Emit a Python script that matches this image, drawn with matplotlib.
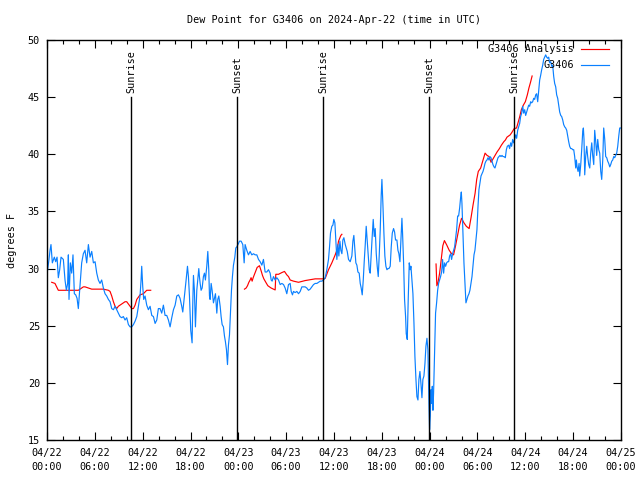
import numpy as np
import matplotlib
matplotlib.use("Agg")
import matplotlib.pyplot as plt
from matplotlib.ticker import MultipleLocator

# hours since 2024-04-22 00:00 UTC
station_hours = [
    0.00, 0.25, 0.38, 0.50, 0.67, 0.92, 1.09, 1.26, 1.42, 1.59, 1.76, 2.05, 2.26, 2.43, 2.59, 2.68,
    2.76, 2.93, 3.10, 3.26, 3.43, 3.60, 3.77, 3.93, 4.14, 4.35, 4.56, 4.77, 4.98, 5.19, 5.40, 5.61,
    5.82, 6.03, 6.24, 6.44, 6.65, 6.86, 7.07, 7.28, 7.49, 7.70, 7.91, 8.12, 8.33, 8.54, 8.74, 8.95,
    9.16, 9.37, 9.58, 9.79, 10.00, 10.21, 10.42, 10.63, 10.84, 11.05, 11.26, 11.46, 11.67, 11.80,
    11.88, 12.01, 12.13, 12.30, 12.51, 12.72, 12.93, 13.14, 13.35, 13.56, 13.77, 13.97,
    14.18, 14.39, 14.60, 14.81, 15.02, 15.23, 15.44, 15.65, 15.86, 16.07, 16.28, 16.49, 16.69, 16.90,
    17.03, 17.20, 17.32, 17.45, 17.62, 17.74, 17.87, 18.03, 18.20, 18.28, 18.37, 18.49, 18.62, 18.79,
    18.91, 19.04, 19.12, 19.21, 19.33, 19.46, 19.62, 19.75, 19.87, 20.04, 20.17, 20.29, 20.38, 20.46,
    20.59, 20.71, 20.88, 21.00, 21.13, 21.30, 21.42, 21.55, 21.72, 21.84, 21.97, 22.13, 22.26, 22.38,
    22.51, 22.64, 22.76, 22.89, 23.01, 23.14, 23.26, 23.39, 23.56, 23.68, 23.81, 24.02, 24.14, 24.35,
    24.56, 24.73, 24.85, 25.06, 25.27, 25.48, 25.69, 25.90, 26.11, 26.32, 26.53, 26.74, 26.95, 27.15,
    27.36, 27.57, 27.78, 27.99, 28.12, 28.24, 28.41,
    28.62, 28.83, 29.04, 29.25, 29.46, 29.67, 29.87, 30.08, 30.29, 30.50, 30.63, 30.79, 30.92, 31.13,
    31.34, 31.55, 31.76, 31.97, 32.18, 32.38, 32.59, 32.80, 33.01, 33.22, 33.43, 33.64, 33.85, 34.06,
    34.27, 34.48, 34.69, 34.90, 35.10, 35.31, 35.44, 35.56, 35.73, 35.86, 35.98, 36.11, 36.23, 36.36,
    36.49, 36.61, 36.74, 36.86, 36.99, 37.11, 37.24, 37.41, 37.53, 37.66, 37.82, 38.03, 38.24, 38.37,
    38.49, 38.62, 38.74, 38.87, 39.00, 39.16, 39.29, 39.41, 39.54, 39.67, 39.79, 39.92, 40.04, 40.17,
    40.29, 40.42, 40.54, 40.67, 40.79, 40.92, 41.05, 41.17, 41.30, 41.42, 41.55, 41.67, 41.80, 41.92,
    42.01, 42.13, 42.26, 42.38, 42.51, 42.64, 42.76, 42.89,
    43.05, 43.18, 43.31, 43.47, 43.60, 43.72, 43.89, 44.02, 44.14, 44.27, 44.39, 44.52, 44.60, 44.73,
    44.85, 44.98, 45.06, 45.19, 45.31, 45.44, 45.56, 45.65, 45.77, 45.90, 46.03, 46.15, 46.28, 46.40,
    46.53, 46.65, 46.78, 46.90, 47.03, 47.15, 47.28, 47.41, 47.53, 47.66, 47.78, 47.91, 47.99, 48.08,
    48.16, 48.24, 48.33, 48.41, 48.49, 48.62, 48.74, 48.87, 49.00, 49.12, 49.25, 49.37, 49.50, 49.62,
    49.75, 49.87, 50.00, 50.13, 50.25, 50.38, 50.50, 50.63, 50.75, 50.88, 51.00, 51.13, 51.26, 51.38,
    51.51, 51.63, 51.76, 51.88, 51.97, 52.05, 52.13, 52.22, 52.30, 52.43, 52.55, 52.68, 52.80, 52.93,
    53.05, 53.18, 53.31, 53.43, 53.56, 53.68, 53.81, 53.93, 54.06, 54.18, 54.31, 54.44, 54.56, 54.69,
    54.81, 54.94, 55.06, 55.19, 55.31, 55.44, 55.56, 55.69, 55.82, 55.94, 56.07, 56.19, 56.32, 56.44,
    56.57, 56.69, 56.82, 56.95, 57.07, 57.20, 57.32,
    57.49, 57.62, 57.74, 57.91, 58.03, 58.16, 58.28, 58.41, 58.54, 58.66, 58.79, 58.91, 59.04, 59.16,
    59.29, 59.41, 59.54, 59.67, 59.79, 59.92, 60.04, 60.17, 60.29, 60.42, 60.54, 60.67, 60.79, 60.92,
    61.05, 61.17, 61.30, 61.42, 61.55, 61.67, 61.80, 61.92, 62.05, 62.18, 62.30, 62.43, 62.55, 62.68,
    62.80, 62.93, 63.05, 63.18, 63.31, 63.43, 63.56, 63.68, 63.81, 63.93, 64.06, 64.18, 64.31, 64.44,
    64.56, 64.69, 64.81, 64.94, 65.06, 65.19, 65.31, 65.44, 65.56, 65.69, 65.82, 65.94, 66.07, 66.19,
    66.32, 66.40, 66.49, 66.61, 66.74, 66.82, 66.95, 67.07, 67.20, 67.28, 67.36, 67.45, 67.57, 67.70,
    67.82, 67.95, 68.08, 68.20, 68.33, 68.45, 68.58, 68.70, 68.83, 68.95, 69.08, 69.21, 69.33, 69.46,
    69.58, 69.71, 69.83, 69.96, 70.08, 70.21, 70.33, 70.46, 70.59, 70.71, 70.84, 70.96, 71.09, 71.21,
    71.34, 71.46, 71.59, 71.72, 71.84, 71.97,
]
station_dewpt = [
    29.5, 30.8, 31.6, 32.1, 30.5, 31.0, 30.6, 31.0, 29.2, 29.9, 31.0, 30.8, 29.0, 28.1, 28.7, 31.2,
    27.3, 30.5, 29.6, 31.2, 27.8, 27.7, 27.4, 26.5, 28.5, 30.5, 31.3, 31.6, 30.5, 32.1, 31.0, 31.5,
    30.5, 30.6, 29.6, 29.0, 28.7, 29.0, 28.3, 27.8, 27.6, 27.3, 27.1, 26.5, 26.4, 26.7, 26.4, 26.1,
    25.8, 25.7, 25.8, 25.5, 25.7, 25.1, 24.9, 24.9, 25.1, 25.4, 25.8, 26.7, 27.6, 29.0,
    30.2, 28.4, 27.3, 27.6, 26.8, 26.4, 26.7, 25.9, 25.8, 25.2, 25.5, 26.5,
    26.5, 26.1, 26.8, 25.9, 25.9, 25.5, 24.9, 25.7, 26.4, 26.8, 27.6, 27.7, 27.4, 26.7,
    26.2, 27.3, 28.1, 29.0, 30.2, 29.3, 27.6, 24.6, 23.5, 26.7, 29.4, 28.1, 24.9, 28.1,
    29.0, 30.0, 29.3, 28.7, 28.1, 28.3, 29.3, 29.6, 29.0, 30.2, 31.5, 29.9, 27.6, 27.3,
    28.7, 28.1, 27.0, 27.4, 27.8, 26.1, 27.3, 27.6, 26.7, 25.8, 25.1, 24.9, 24.1, 23.6,
    22.9, 21.6, 23.3, 24.2, 26.1, 28.1, 29.3, 30.3, 31.0, 31.8, 31.9, 32.2, 32.4, 32.4,
    32.1, 30.5, 32.1, 31.6, 31.2, 31.5, 31.2, 31.3, 31.2, 31.2, 30.8, 30.6, 30.3, 30.8,
    29.7, 29.7, 29.9, 29.6, 29.0, 28.9, 29.3,
    29.0, 29.2, 29.0, 28.6, 28.7, 28.6, 28.3, 27.8, 28.6, 28.7, 28.0, 27.7, 28.0, 27.9,
    28.0, 27.8, 28.0, 28.4, 28.4, 28.4, 28.3, 28.1, 28.2, 28.4, 28.6, 28.7, 28.7, 28.8,
    28.9, 28.9, 29.0, 29.2, 29.9, 30.8, 31.9, 33.1, 33.7, 33.8, 34.3, 34.0, 32.5, 30.8,
    32.1, 31.1, 32.4, 31.6, 31.3, 32.5, 32.7, 32.1, 31.8, 31.5, 30.8, 30.6, 31.1, 32.4,
    32.9, 31.6, 30.5, 30.3, 29.7, 29.6, 28.7, 28.3, 27.7, 29.0, 30.6, 32.1, 33.7, 32.4,
    31.3, 29.9, 29.6, 31.3, 32.8, 34.3, 32.8, 33.5, 31.3, 30.2, 29.3, 31.1, 33.4, 36.4,
    37.8, 35.7, 33.1, 31.1, 30.2, 29.9, 30.0, 30.0,
    30.2, 31.9, 33.1, 33.5, 33.2, 32.5, 32.5, 31.6, 31.3, 30.6, 32.5, 34.4, 33.1, 30.5,
    27.3, 25.8, 24.3, 23.8, 27.3, 30.5, 29.9, 30.2, 29.0, 27.8, 25.2, 22.3, 20.3, 18.8,
    18.5, 20.3, 21.0, 20.0, 18.7, 20.3, 20.6, 21.7, 23.2, 23.9, 22.9, 18.2, 15.9, 17.1,
    19.4, 18.2, 19.7, 17.6, 19.1, 22.9, 26.1, 27.0, 28.1, 28.7, 29.0, 29.3, 29.7, 30.8,
    29.6, 30.5, 30.2, 30.5, 30.6, 30.6, 31.1, 31.3, 30.8, 31.3, 31.6, 31.9, 32.7, 33.4,
    34.6, 34.6, 35.3, 36.2, 36.7, 35.7, 34.1, 32.2, 30.5, 28.7, 27.0, 27.3, 27.6, 27.8,
    28.1, 28.7, 29.3, 30.2, 31.2, 31.6, 32.5, 33.4, 35.4, 36.9, 37.5, 38.1, 38.3, 38.5,
    38.8, 39.2, 39.4, 39.5, 39.7, 39.5, 39.8, 39.7, 39.4, 39.1, 38.9, 38.8, 39.1, 39.4,
    39.7, 39.8, 39.9, 39.8, 39.9, 39.8, 39.8,
    39.7, 40.4, 40.7, 40.8, 40.5, 41.0, 40.7, 41.3, 41.0, 41.3, 41.7, 41.4, 42.1, 42.4,
    42.7, 43.3, 43.6, 44.2, 43.6, 43.9, 43.4, 43.7, 44.0, 44.3, 44.2, 44.6, 44.5, 44.6,
    44.9, 44.8, 45.2, 45.3, 44.6, 45.5, 46.5, 46.9, 47.4, 47.8, 48.3, 48.5, 48.7, 48.5,
    48.4, 48.5, 48.0, 48.1, 47.7, 47.8, 46.8, 46.2, 45.9, 45.2, 44.9, 44.3, 43.7, 43.4,
    43.3, 43.0, 42.6, 42.4, 42.3, 42.1, 41.6, 41.1, 40.7, 40.5, 40.5, 40.4, 40.4, 39.8,
    38.8, 39.5, 38.9, 38.5, 39.2, 38.1, 39.1, 40.4, 42.0, 42.3, 41.3, 38.2, 39.8, 40.7,
    39.8, 39.1, 38.8, 40.1, 41.0, 39.9, 39.1, 42.1, 41.1, 39.9, 41.3, 40.4, 40.1, 38.5,
    37.8, 39.5, 42.3, 41.3, 39.8, 39.7, 39.4, 39.2, 38.9, 39.1, 39.4, 39.5, 39.8, 39.7,
    39.9, 40.1, 40.7, 41.6, 42.3, 42.3,
]

# analysis series, three separate runs
analysis_hours = [
    [0.59, 1.00, 1.21, 1.42, 1.63, 2.26, 3.93, 4.14, 4.56, 4.77, 5.19, 5.61, 7.07, 7.70, 7.91,
     8.12, 8.33, 8.54, 8.74, 8.95, 9.37, 9.79, 10.00, 10.42, 10.63, 10.84, 11.05, 11.26, 11.67,
     12.09, 12.51, 12.72, 13.01],
    [24.77, 24.98, 25.15, 25.32, 25.48, 25.60, 25.73, 25.86, 26.03, 26.20, 26.36, 26.65, 26.86,
     27.03, 27.20, 27.36, 27.53, 27.70, 27.90, 28.11, 28.40, 28.62, 28.70, 28.95, 29.04, 29.46,
     29.79, 30.08, 30.29, 30.50, 30.92, 31.55, 32.38, 33.64, 34.69, 34.90, 35.31, 35.73, 36.15,
     36.36, 36.57, 36.86, 36.99],
    [48.80, 48.90, 49.05, 49.25, 49.45, 49.65, 49.85, 50.15, 50.45, 50.75, 51.00, 51.25, 51.50,
     51.75, 52.00, 52.30, 52.60, 52.95, 53.20, 53.45, 53.70, 53.90, 54.10, 54.40, 54.70, 54.95,
     55.20, 55.45, 55.70, 55.95, 56.20, 56.45, 56.75, 57.00, 57.30, 57.50, 57.70, 57.90, 58.10,
     58.30, 58.60, 58.90, 59.10, 59.30, 59.50, 59.75, 60.00, 60.25, 60.45, 60.65, 60.85],
]
analysis_dewpt = [
    [28.8, 28.7, 28.4, 28.1, 28.1, 28.1, 28.1, 28.2, 28.4, 28.4, 28.3, 28.2, 28.2, 28.1, 28.0,
     27.6, 27.1, 26.7, 26.5, 26.7, 26.9, 27.1, 27.1, 26.7, 26.5, 26.5, 26.8, 27.3, 27.7,
     27.8, 28.1, 28.1, 28.1],
    [28.2, 28.3, 28.5, 28.8, 29.0, 29.2, 28.9, 29.2, 29.5, 29.8, 30.1, 30.25, 29.8,
     29.4, 29.1, 28.9, 28.7, 28.5, 28.4, 28.3, 28.2, 28.13, 29.5, 29.5, 29.5, 29.65,
     29.75, 29.45, 29.3, 29.0, 28.9, 28.8, 28.95, 29.1, 29.1, 29.15, 29.9, 30.5, 31.2,
     31.6, 32.4, 32.9, 33.0],
    [30.4, 28.5, 28.8, 29.6, 30.8, 32.0, 32.45, 32.05, 31.6, 31.3, 31.2, 32.0, 32.9,
     33.8, 34.4, 34.0, 33.7, 33.5, 34.5, 35.6, 36.6, 37.8, 38.5, 38.8, 39.5, 40.1,
     39.9, 39.8, 39.3, 39.6, 39.9, 40.2, 40.5, 40.8, 41.1, 41.25, 41.5, 41.6, 41.7,
     41.9, 42.25, 42.3, 42.8, 43.3, 43.9, 44.3, 44.6, 45.2, 45.8, 46.3, 46.85],
]

sun_hours = [10.58, 23.88, 34.65, 47.95, 58.63]
sun_labels = ["Sunrise", "Sunset", "Sunrise", "Sunset", "Sunrise"]

tick_hours = [0, 6, 12, 18, 24, 30, 36, 42, 48, 54, 60, 66, 72]
tick_labels = ["04/22\n00:00", "04/22\n06:00", "04/22\n12:00", "04/22\n18:00",
               "04/23\n00:00", "04/23\n06:00", "04/23\n12:00", "04/23\n18:00",
               "04/24\n00:00", "04/24\n06:00", "04/24\n12:00", "04/24\n18:00",
               "04/25\n00:00"]

plt.rcParams['font.family'] = ['DejaVu Sans Mono']
plt.rcParams['font.size'] = 7.3

fig = plt.figure(figsize=(6.4, 4.8), dpi=100)
ax = fig.add_axes([47 / 640, 40 / 480, 574 / 640, 400 / 480])

# join analysis runs with gaps
a_x, a_y = [], []
for hrs, vals in zip(analysis_hours, analysis_dewpt):
    a_x += hrs + [np.nan]
    a_y += vals + [np.nan]

ax.plot(a_x, a_y, color='#ff0000', lw=0.85, label='G3406 Analysis')
ax.plot(station_hours, station_dewpt, color='#0a80ff', lw=0.85, label='G3406')

for t, lab in zip(sun_hours, sun_labels):
    ax.plot([t, t], [15, 45], color='black', lw=1.0)
    ax.text(t, 45.4, lab, rotation=90, ha='center', va='bottom')

ax.set_xlim(0, 72)
ax.set_ylim(15, 50)
ax.set_xticks(tick_hours)
ax.set_xticklabels(tick_labels)
for lbl in ax.get_xticklabels():
    lbl.set_linespacing(1.45)
ax.xaxis.set_minor_locator(MultipleLocator(2))
ax.set_yticks(range(15, 51, 5))

ax.tick_params(which='both', direction='in', top=True, right=True, width=0.8)
ax.tick_params(which='major', length=6, pad=6)
ax.tick_params(which='minor', length=3)
ax.tick_params(axis='y', pad=5)
for s in ax.spines.values():
    s.set_linewidth(1.0)

ax.set_title('Dew Point for G3406 on 2024-Apr-22 (time in UTC)', fontsize=7.3, pad=12)
ax.set_ylabel('degrees F', labelpad=8)

ax.legend(loc='upper right', bbox_to_anchor=(0.987, 1.0), markerfirst=False, frameon=False,
          handlelength=2.8, handletextpad=0.7, labelspacing=0.6, borderaxespad=0.2,
          borderpad=0.2)

fig.savefig('out.png', dpi=100)
